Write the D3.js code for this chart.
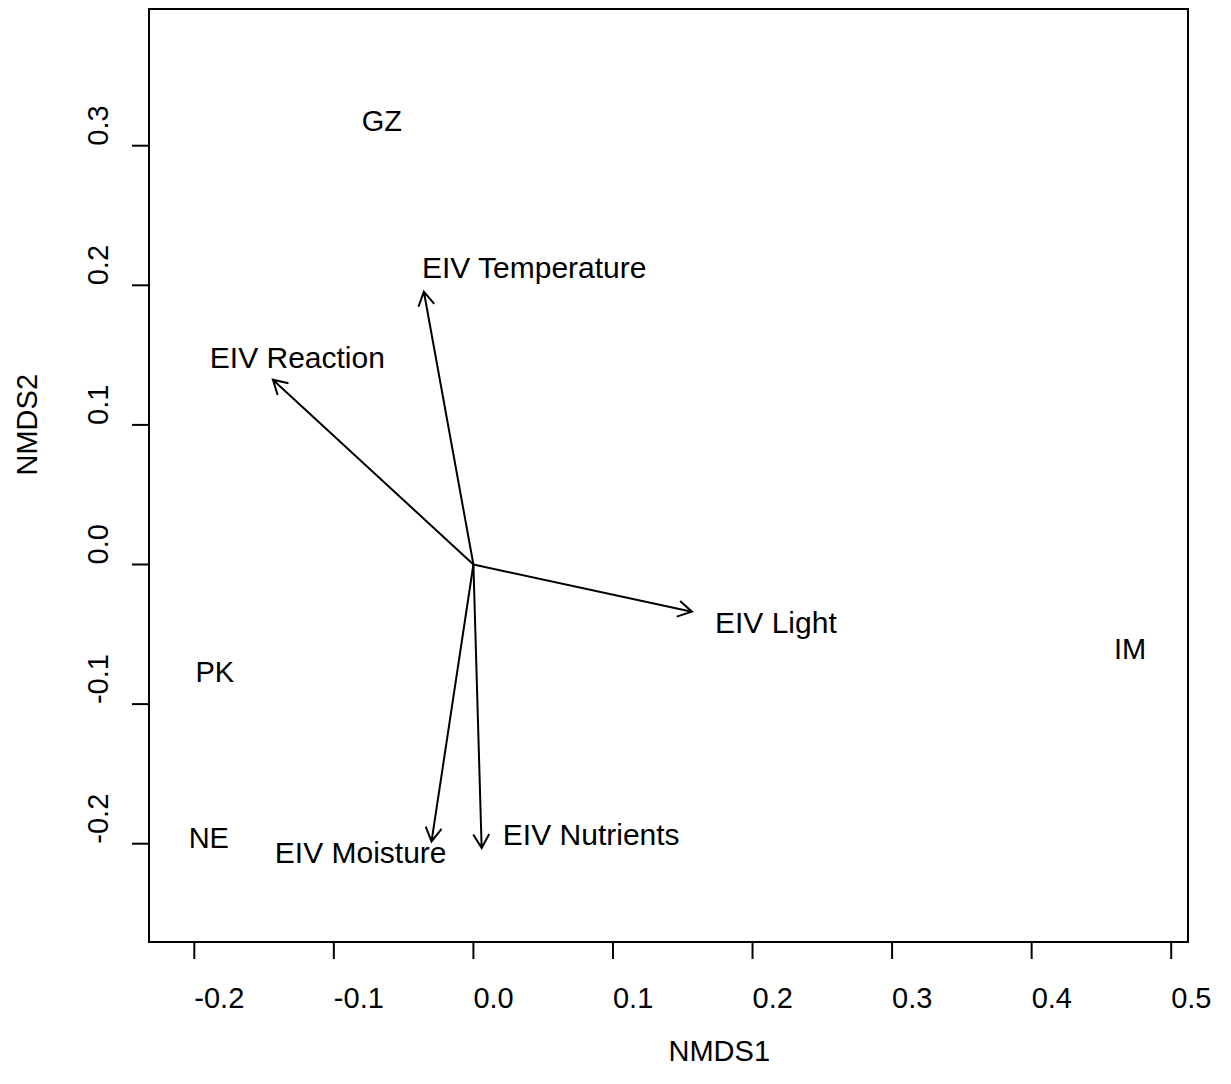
<!DOCTYPE html>
<html lang="en">
<head>
<meta charset="UTF-8">
<title>NMDS ordination</title>
<script src="https://d3js.org/d3.v7.min.js"></script>
<style>
  body { margin: 0; background: #fff; }
  text { font-family: "Liberation Sans", Arial, sans-serif; fill: #000; }
</style>
</head>
<body>
<div id="chart"></div>
<script>
// site scores
const sites = ["GZ", "IM", "PK", "NE"];
const siteX = [-0.0656, 0.4706, -0.1853, -0.1896];
const siteY = [0.3175, -0.0607, -0.0772, -0.196];

// fitted environmental vectors (arrow tips)
const vectors = ["EIV Temperature", "EIV Reaction", "EIV Light", "EIV Moisture", "EIV Nutrients"];
const vecX = [-0.0355, -0.1437, 0.1566, -0.030, 0.0059];
const vecY = [0.1954, 0.1324, -0.0338, -0.1984, -0.2031];
// where each vector label sits (start of text, baseline), in NMDS units
const vecLabX = [-0.0369, -0.1889, 0.1731, -0.1423, 0.0211];
const vecLabY = [0.2054, 0.141, -0.0489, -0.2136, -0.2007];

const xTicks = [-0.2, -0.1, 0.0, 0.1, 0.2, 0.3, 0.4, 0.5];
const yTicks = [-0.2, -0.1, 0.0, 0.1, 0.2, 0.3];

const width = 1231, height = 1084;
const box = {left: 149, right: 1188, top: 9, bottom: 942};

// R style labels: plain hyphen for negatives
const fmt = v => d3.format(".1f")(v).replace("\u2212", "-");

const svg = d3.select("#chart").append("svg")
    .attr("width", width)
    .attr("height", height);

svg.append("rect").attr("width", width).attr("height", height).attr("fill", "#fff");

const x = d3.scaleLinear().domain([-0.2, 0.5]).range([194.3, 1171.2]);
const y = d3.scaleLinear().domain([-0.2, 0.3]).range([843.7, 145.7]);

// box
svg.append("rect")
    .attr("x", box.left).attr("y", box.top)
    .attr("width", box.right - box.left).attr("height", box.bottom - box.top)
    .attr("fill", "none").attr("stroke", "#000").attr("stroke-width", 2);

// x axis
const xAxis = svg.append("g").attr("transform", `translate(0,${box.bottom})`);
xAxis.append("line")
    .attr("x1", x(xTicks[0])).attr("x2", x(xTicks[xTicks.length - 1]))
    .attr("stroke", "#000").attr("stroke-width", 2);
xTicks.forEach(t => {
    xAxis.append("line")
        .attr("x1", x(t)).attr("x2", x(t)).attr("y1", 0).attr("y2", 17)
        .attr("stroke", "#000").attr("stroke-width", 2);
    xAxis.append("text")
        .attr("x", x(t)).attr("y", 66)
        .attr("font-size", 29)
        .text(fmt(t));
});

// y axis
const yAxis = svg.append("g").attr("transform", `translate(${box.left},0)`);
yAxis.append("line")
    .attr("y1", y(yTicks[0])).attr("y2", y(yTicks[yTicks.length - 1]))
    .attr("stroke", "#000").attr("stroke-width", 2);
yTicks.forEach(t => {
    yAxis.append("line")
        .attr("x1", 0).attr("x2", -17).attr("y1", y(t)).attr("y2", y(t))
        .attr("stroke", "#000").attr("stroke-width", 2);
    yAxis.append("text")
        .attr("transform", `translate(-41,${y(t)}) rotate(-90)`)
        .attr("font-size", 29)
        .text(fmt(t));
});

// axis titles
svg.append("text")
    .attr("x", (box.left + box.right) / 2).attr("y", 1061)
    .attr("font-size", 29)
    .text("NMDS1");
svg.append("text")
    .attr("transform", `translate(37,${(box.top + box.bottom) / 2}) rotate(-90)`)
    .attr("font-size", 29)
    .text("NMDS2");

// site labels
svg.selectAll(".site")
    .data(sites)
    .enter()
    .append("text")
    .attr("class", "site")
    .attr("x", (d, i) => x(siteX[i]))
    .attr("y", (d, i) => y(siteY[i]))
    .attr("dy", "0.35em")
    .attr("text-anchor", "middle")
    .attr("font-size", 29)
    .text(d => d);

// arrows
const headLen = 16, headAng = Math.PI / 6;
const arrows = svg.append("g").attr("fill", "none").attr("stroke", "#000").attr("stroke-width", 2);
vectors.forEach((v, i) => {
    const x0 = x(0), y0 = y(0), x1 = x(vecX[i]), y1 = y(vecY[i]);
    const a = Math.atan2(y1 - y0, x1 - x0);
    const p = d3.path();
    p.moveTo(x0, y0);
    p.lineTo(x1, y1);
    p.moveTo(x1 - headLen * Math.cos(a - headAng), y1 - headLen * Math.sin(a - headAng));
    p.lineTo(x1, y1);
    p.lineTo(x1 - headLen * Math.cos(a + headAng), y1 - headLen * Math.sin(a + headAng));
    arrows.append("path").attr("d", p.toString());
});

svg.selectAll(".vec")
    .data(vectors)
    .enter()
    .append("text")
    .attr("class", "vec")
    .attr("x", (d, i) => x(vecLabX[i]))
    .attr("y", (d, i) => y(vecLabY[i]))
    .attr("font-size", 30)
    .text(d => d);
</script>
</body>
</html>
